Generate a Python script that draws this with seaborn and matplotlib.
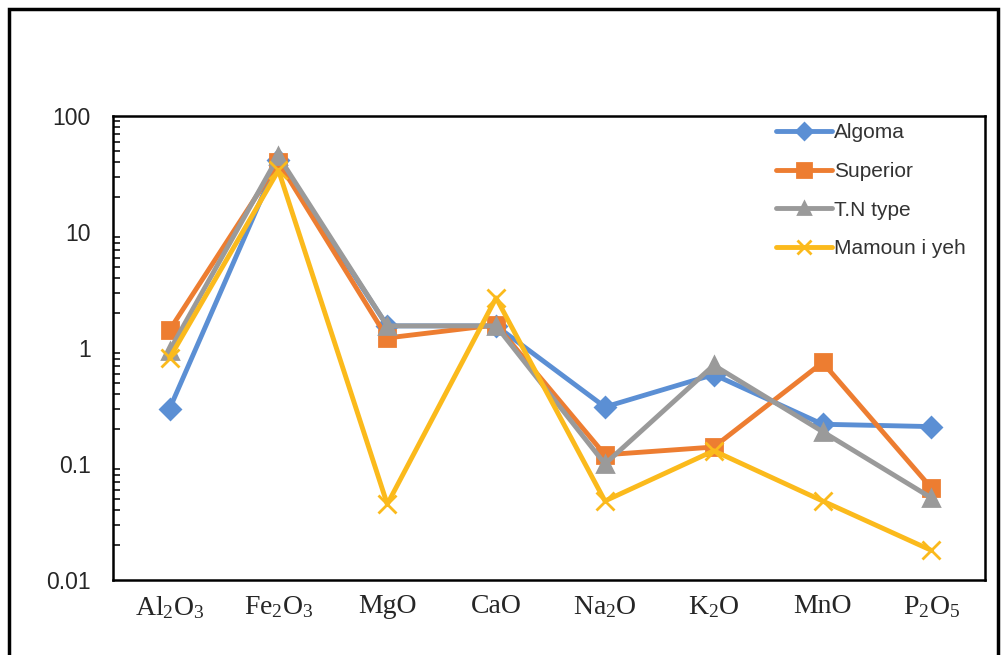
import pandas as pd
import seaborn as sns
import matplotlib.pyplot as plt
from matplotlib.patches import Rectangle

# oxide categories (x axis) and their labels with subscripts
oxides = ["Al2O3", "Fe2O3", "MgO", "CaO", "Na2O", "K2O", "MnO", "P2O5"]
oxide_labels = [r"Al$_2$O$_3$", r"Fe$_2$O$_3$", "MgO", "CaO",
                r"Na$_2$O", r"K$_2$O", "MnO", r"P$_2$O$_5$"]

# values (wt.%)
algoma = [0.30, 42, 1.55, 1.55, 0.31, 0.59, 0.22, 0.21]
superior = [1.43, 40, 1.22, 1.58, 0.12, 0.14, 0.75, 0.062]
tn_type = [0.95, 45, 1.55, 1.55, 0.10, 0.71, 0.19, 0.051]
mamouniyeh = [0.82, 34, 0.045, 2.7, 0.048, 0.13, 0.048, 0.018]

series_names = ["Algoma", "Superior", "T.N type", "Mamoun i yeh"]
series_vals = [algoma, superior, tn_type, mamouniyeh]
colors = ["#5B8FD4", "#ED7D31", "#9A9A9A", "#FBBA1C"]
markers = ["D", "s", "^", "x"]
msizes = [10, 12, 11, 13]

sns.set_style("white")
plt.rcParams["font.family"] = ["Liberation Sans", "DejaVu Sans"]
plt.rcParams["mathtext.fontset"] = "custom"
plt.rcParams["mathtext.rm"] = "Liberation Serif"
plt.rcParams["mathtext.default"] = "regular"

fig = plt.figure(figsize=(10.02, 6.55), dpi=100)
ax = fig.add_axes([0.1128, 0.1145, 0.870, 0.7085])

for name, vals, c, m, ms in zip(series_names, series_vals, colors, markers, msizes):
    d = pd.DataFrame({"oxide": oxides, "value": vals})
    sns.lineplot(data=d, x="oxide", y="value", sort=False, color=c,
                 marker=m, markersize=ms, markeredgewidth=2,
                 markerfacecolor=c, markeredgecolor=c,
                 linewidth=3.5, label=name, ax=ax)

ax.set_yscale("log")
ax.set_ylim(0.01, 100)
ax.set_xlim(-0.52, 7.49)
ax.set_xticks(range(len(oxides)))
ax.set_xticklabels(oxide_labels, fontsize=20, family="Liberation Serif")
ax.set_yticks([0.01, 0.1, 1, 10, 100])
ax.set_yticklabels(["0.01", "0.1", "1", "10", "100"], fontsize=16.5)
ax.set_xlabel("")
ax.set_ylabel("")

ax.tick_params(axis="x", direction="in", length=8, width=1.5, pad=10)
ax.tick_params(axis="y", which="major", direction="in", length=8, width=1.5, pad=16)
ax.tick_params(axis="y", which="minor", direction="in", length=5, width=1.3, left=True)
for sp in ax.spines.values():
    sp.set_visible(True)
    sp.set_color("black")
    sp.set_linewidth(1.8)

leg = ax.legend(loc="upper right", frameon=False, fontsize=15,
                handlelength=2.7, handletextpad=0.1, labelspacing=0.95,
                markerscale=0.8, bbox_to_anchor=(1.0, 1.025))
for t in leg.get_texts():
    t.set_color("#333333")

# outer frame around the figure
fig.patches.append(Rectangle((0.009, -0.02), 0.987, 1.006, transform=fig.transFigure,
                             fill=False, edgecolor="black", linewidth=2.5))

fig.savefig("out.png", dpi=100)
plt.close(fig)
